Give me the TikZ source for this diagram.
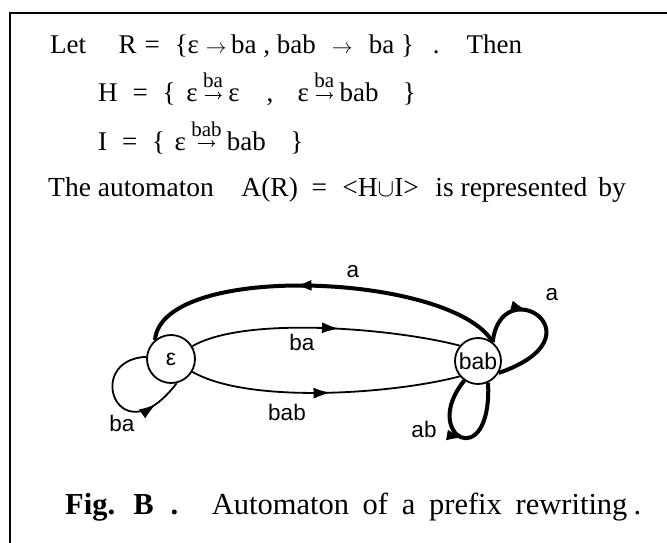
\documentclass[tikz,border=0pt]{standalone}
\usepackage{fontspec}
\setmainfont{Liberation Serif}
\newfontfamily\labfont{Liberation Sans}
\usetikzlibrary{arrows.meta, decorations.markings}

% plain arrow, and arrow with a word written above it
\newcommand{\rarrow}{\mbox{\fontsize{21}{21}\selectfont$\rightarrow$}}
\newcommand{\lblarrow}[1]{\hspace{0.2em}\ensuremath{\stackrel{\raisebox{2pt}{\fontsize{21}{21}\selectfont #1}}{\tikz[baseline=0pt] \draw [line width=0.8pt, -{To[length=3.5pt, width=7pt]}] (0pt,6.5pt) -- (17pt,6.5pt);}}\hspace{0.2em}}

\begin{document}
\begin{tikzpicture}[x=1pt, y=1pt]
    % Define styles
    \tikzset{
        state/.style={circle, draw, line width=1.8pt, inner sep=0pt, minimum size=48pt, font=\labfont\fontsize{23}{24}\selectfont},
        thinedge/.style={line width=1.8pt},
        thickedge/.style={line width=4pt},
        midarrow/.style={postaction={decorate}, decoration={markings, mark=at position #1 with {\arrow{Latex[length=17pt,width=11pt]}}}},
        lab/.style={font=\labfont\fontsize{22.5}{24}\selectfont, inner sep=1pt},
        txt/.style={anchor=base west, inner sep=0pt, font=\fontsize{27}{32}\selectfont}
    }
    \useasboundingbox (0,0) rectangle (667,-543);

    % Frame
    \draw [line width=2.5pt] (10,-543) -- (10,-13) -- (667,-13);

    % Text lines
    \node [txt] (line1) at (50,-54) {Let\hspace{1.2em}R\hspace{0.3em}=\hspace{0.55em}\{ε\ \rarrow\,ba , bab\hspace{0.6em}\rarrow\hspace{0.6em}ba \}\hspace{0.7em}.\hspace{1em}Then};
    \node [txt] (line2) at (98,-102) {H\hspace{0.55em}=\hspace{0.55em}\{\hspace{0.4em}ε\lblarrow{ba}ε\hspace{1em},\hspace{0.9em}ε\lblarrow{ba}bab\hspace{0.9em}\}};
    \node [txt] (line3) at (98,-150) {I\hspace{0.55em}=\hspace{0.55em}\{\hspace{0.35em}ε\lblarrow{bab}bab\hspace{0.9em}\}};
    \node [txt, font=\fontsize{27.5}{32}\selectfont] (line4) at (48,-196) {The automaton\hspace{1em}A(R)\hspace{0.5em}=\hspace{0.55em}<H$\cup$I>\hspace{0.6em}is represented\hspace{0.4em}by};
    \node [txt, font=\fontsize{30.5}{34}\selectfont] (caption) at (65,-514) {\textbf{Fig.\hspace{0.6em}B\hspace{0.55em}.}\hspace{1.1em}Automaton\hspace{0.45em}of\hspace{0.45em}a\hspace{0.45em}prefix\hspace{0.45em}rewriting\hspace{0.2em}.};

    % Place states
    \node [state] (eps) at (171,-359) {ε};
    \node [state, minimum size=46pt] (bab) at (478,-361) {bab};

    % Draw transitions
    \draw [thickedge, midarrow=0.57] (bab.52) to[out=120, in=85, looseness=0.6] (eps.130);
    \draw [thinedge, midarrow=0.55] (eps.31) to[out=30, in=165, looseness=0.6] (bab.140);
    \draw [thinedge, midarrow=0.52] (eps.-31) to[out=-30, in=195, looseness=0.63] (bab.220);
    \draw [thinedge, midarrow=0.79] (eps.175) .. controls +(-64,-3) and +(-58,-76) .. (eps.-77);
    \draw [thickedge, midarrow=0.36] (bab.52) .. controls +(8,73) and +(107,37) .. (bab.-30);
    \draw [thickedge, midarrow=0.5] (bab.235) .. controls +(-45,-55) and +(4,-93) .. (bab.-65);

    % Transition labels
    \node [lab] (lab_top) at (353,-272) {a};
    \node [lab] (lab_mid) at (302,-342) {ba};
    \node [lab] (lab_low) at (287,-412) {bab};
    \node [lab] (lab_loop_eps) at (122,-423) {ba};
    \node [lab] (lab_loop_up) at (552,-295) {a};
    \node [lab] (lab_loop_down) at (424,-429) {ab};
\end{tikzpicture}
\end{document}
